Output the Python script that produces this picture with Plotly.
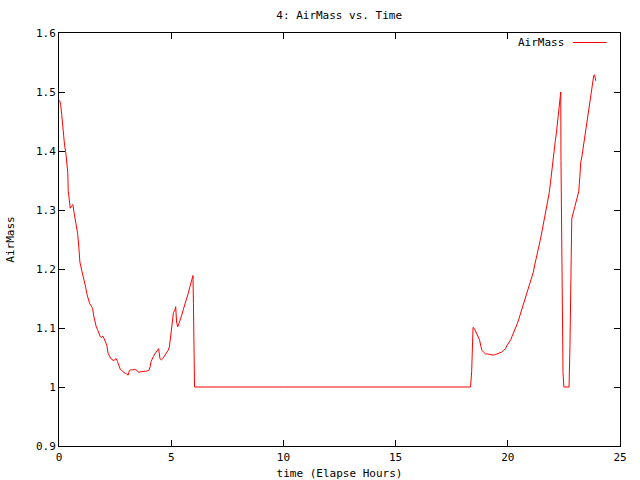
import plotly.graph_objects as go

# Elapsed hours and air mass
time_hours = [
    0.03, 0.07, 0.12, 0.16, 0.21, 0.25, 0.30, 0.34, 0.39, 0.41, 0.46, 0.50, 0.56, 0.62, 0.67,
    0.71, 0.77, 0.83, 0.89, 0.93, 1.01, 1.07, 1.13, 1.19, 1.24, 1.30, 1.36, 1.44, 1.50, 1.54,
    1.60, 1.66, 1.72, 1.78, 1.84, 1.90, 1.96, 2.01, 2.07, 2.13, 2.19, 2.25, 2.31, 2.37, 2.43,
    2.49, 2.55, 2.61, 2.67, 2.73, 2.79, 2.84, 2.90, 2.96, 3.02, 3.08, 3.14, 3.20, 3.29, 3.38,
    3.47, 3.56, 3.67, 3.79, 3.91, 4.00, 4.06, 4.10, 4.15, 4.21, 4.27, 4.33, 4.39, 4.44, 4.50,
    4.56, 4.62, 4.67, 4.74, 4.80, 4.86, 4.92, 4.96, 5.01, 5.05, 5.10, 5.16, 5.20, 5.24, 5.29,
    5.35, 5.41, 5.47, 5.53, 5.59, 5.64, 5.70, 5.76, 5.82, 5.88, 5.93, 5.97, 5.99, 6.01, 6.04,
    10.00, 14.00, 18.34,
    18.39, 18.42, 18.45, 18.51, 18.57, 18.63, 18.68, 18.74, 18.80, 18.85, 18.92, 19.01, 19.10,
    19.19, 19.27, 19.36, 19.45, 19.54, 19.63, 19.72, 19.81, 19.90, 19.96, 20.01, 20.07, 20.13,
    20.19, 20.25, 20.31, 20.37, 20.43, 20.49, 20.55, 20.60, 20.66, 20.72, 20.78, 20.84, 20.90,
    20.96, 21.02, 21.08, 21.14, 21.20, 21.26, 21.31, 21.37, 21.43, 21.49, 21.55, 21.61, 21.67,
    21.73, 21.79, 21.85, 21.90, 21.94, 21.99, 22.03, 22.08, 22.12, 22.17, 22.21, 22.26, 22.30,
    22.33, 22.36, 22.37, 22.42, 22.46, 22.50, 22.73, 22.77, 22.81, 22.85, 22.90, 22.94, 22.99,
    23.03, 23.08, 23.12, 23.16, 23.21, 23.25, 23.30, 23.34, 23.39, 23.43, 23.47, 23.52, 23.56,
    23.61, 23.65, 23.70, 23.74, 23.79, 23.83, 23.87, 23.92,
]
air_mass = [
    1.486, 1.479, 1.462, 1.443, 1.423, 1.409, 1.398, 1.383, 1.364, 1.333, 1.315, 1.303, 1.307, 1.309, 1.296,
    1.288, 1.276, 1.260, 1.234, 1.212, 1.198, 1.189, 1.181, 1.169, 1.158, 1.150, 1.142, 1.137, 1.133, 1.122,
    1.110, 1.102, 1.097, 1.092, 1.085, 1.084, 1.086, 1.082, 1.077, 1.071, 1.057, 1.051, 1.048, 1.047, 1.044,
    1.047, 1.048, 1.043, 1.037, 1.030, 1.028, 1.026, 1.024, 1.023, 1.022, 1.020, 1.028, 1.029, 1.029, 1.030,
    1.028, 1.025, 1.026, 1.026, 1.027, 1.028, 1.034, 1.043, 1.048, 1.052, 1.056, 1.060, 1.062, 1.065, 1.048,
    1.046, 1.048, 1.051, 1.054, 1.058, 1.062, 1.068, 1.082, 1.105, 1.119, 1.126, 1.130, 1.136, 1.110, 1.102,
    1.108, 1.114, 1.122, 1.130, 1.137, 1.144, 1.151, 1.159, 1.168, 1.177, 1.183, 1.189, 1.142, 1.048, 1.000,
    1.000, 1.000, 1.000,
    1.026, 1.075, 1.101, 1.099, 1.094, 1.090, 1.086, 1.080, 1.069, 1.062, 1.059, 1.056, 1.056,
    1.055, 1.054, 1.054, 1.055, 1.056, 1.057, 1.059, 1.062, 1.065, 1.070, 1.073, 1.077, 1.080,
    1.086, 1.091, 1.096, 1.101, 1.108, 1.115, 1.122, 1.130, 1.136, 1.143, 1.150, 1.159, 1.166,
    1.173, 1.181, 1.188, 1.195, 1.207, 1.216, 1.226, 1.236, 1.246, 1.257, 1.269, 1.280, 1.291,
    1.302, 1.316, 1.330, 1.346, 1.361, 1.378, 1.392, 1.407, 1.418, 1.432, 1.446, 1.460, 1.474,
    1.491, 1.500, 1.384, 1.159, 1.024, 1.000, 1.000, 1.070, 1.212, 1.285, 1.293, 1.301, 1.306,
    1.312, 1.318, 1.325, 1.331, 1.356, 1.381, 1.390, 1.401, 1.412, 1.423, 1.435, 1.446, 1.458,
    1.471, 1.484, 1.497, 1.508, 1.519, 1.528, 1.529, 1.519,
]

x_ticks = [0, 5, 10, 15, 20, 25]
y_ticks = [0.9, 1.0, 1.1, 1.2, 1.3, 1.4, 1.5, 1.6]
y_tick_labels = ["0.9", "1", "1.1", "1.2", "1.3", "1.4", "1.5", "1.6"]

FONT = dict(family="DejaVu Sans Mono, Liberation Mono, monospace", size=11, color="black")

fig = go.Figure()
fig.add_trace(go.Scatter(
    x=time_hours, y=air_mass, mode="lines", name="AirMass",
    line=dict(color="#ff0000", width=1), showlegend=False,
))

axis_common = dict(
    showgrid=False, zeroline=False, showline=True, linecolor="black", linewidth=1,
    mirror="ticks", ticks="inside", ticklen=6, tickcolor="black", tickwidth=1,
    tickfont=FONT, automargin=False,
)

fig.update_layout(
    width=640, height=480,
    margin=dict(l=59, r=20, t=33, b=34),
    paper_bgcolor="white", plot_bgcolor="white",
    font=FONT,
    title=dict(text="4: AirMass vs. Time", x=0.53, xanchor="center", y=0.968, yanchor="middle",
               font=FONT),
    xaxis=dict(range=[0, 25], tickvals=x_ticks, ticktext=[str(v) for v in x_ticks],
               ticklabelstandoff=1,
               title=dict(text="time (Elapse Hours)", font=FONT, standoff=6), **axis_common),
    yaxis=dict(range=[0.9, 1.6], tickvals=y_ticks, ticktext=y_tick_labels,
               title=dict(text="AirMass", font=FONT, standoff=19), **axis_common),
)

# gnuplot-style key: text followed by line sample, top right inside the plot
fig.add_annotation(text="AirMass", xref="paper", yref="paper", x=0.903, y=0.977,
                   xanchor="right", yanchor="middle", showarrow=False, font=FONT)
fig.add_shape(type="line", xref="paper", yref="paper", x0=0.916, x1=0.976, y0=0.977, y1=0.977,
              line=dict(color="#ff0000", width=1))

fig.write_html("out.html", config={"displayModeBar": False},
               post_script="document.body.style.margin='0';")
